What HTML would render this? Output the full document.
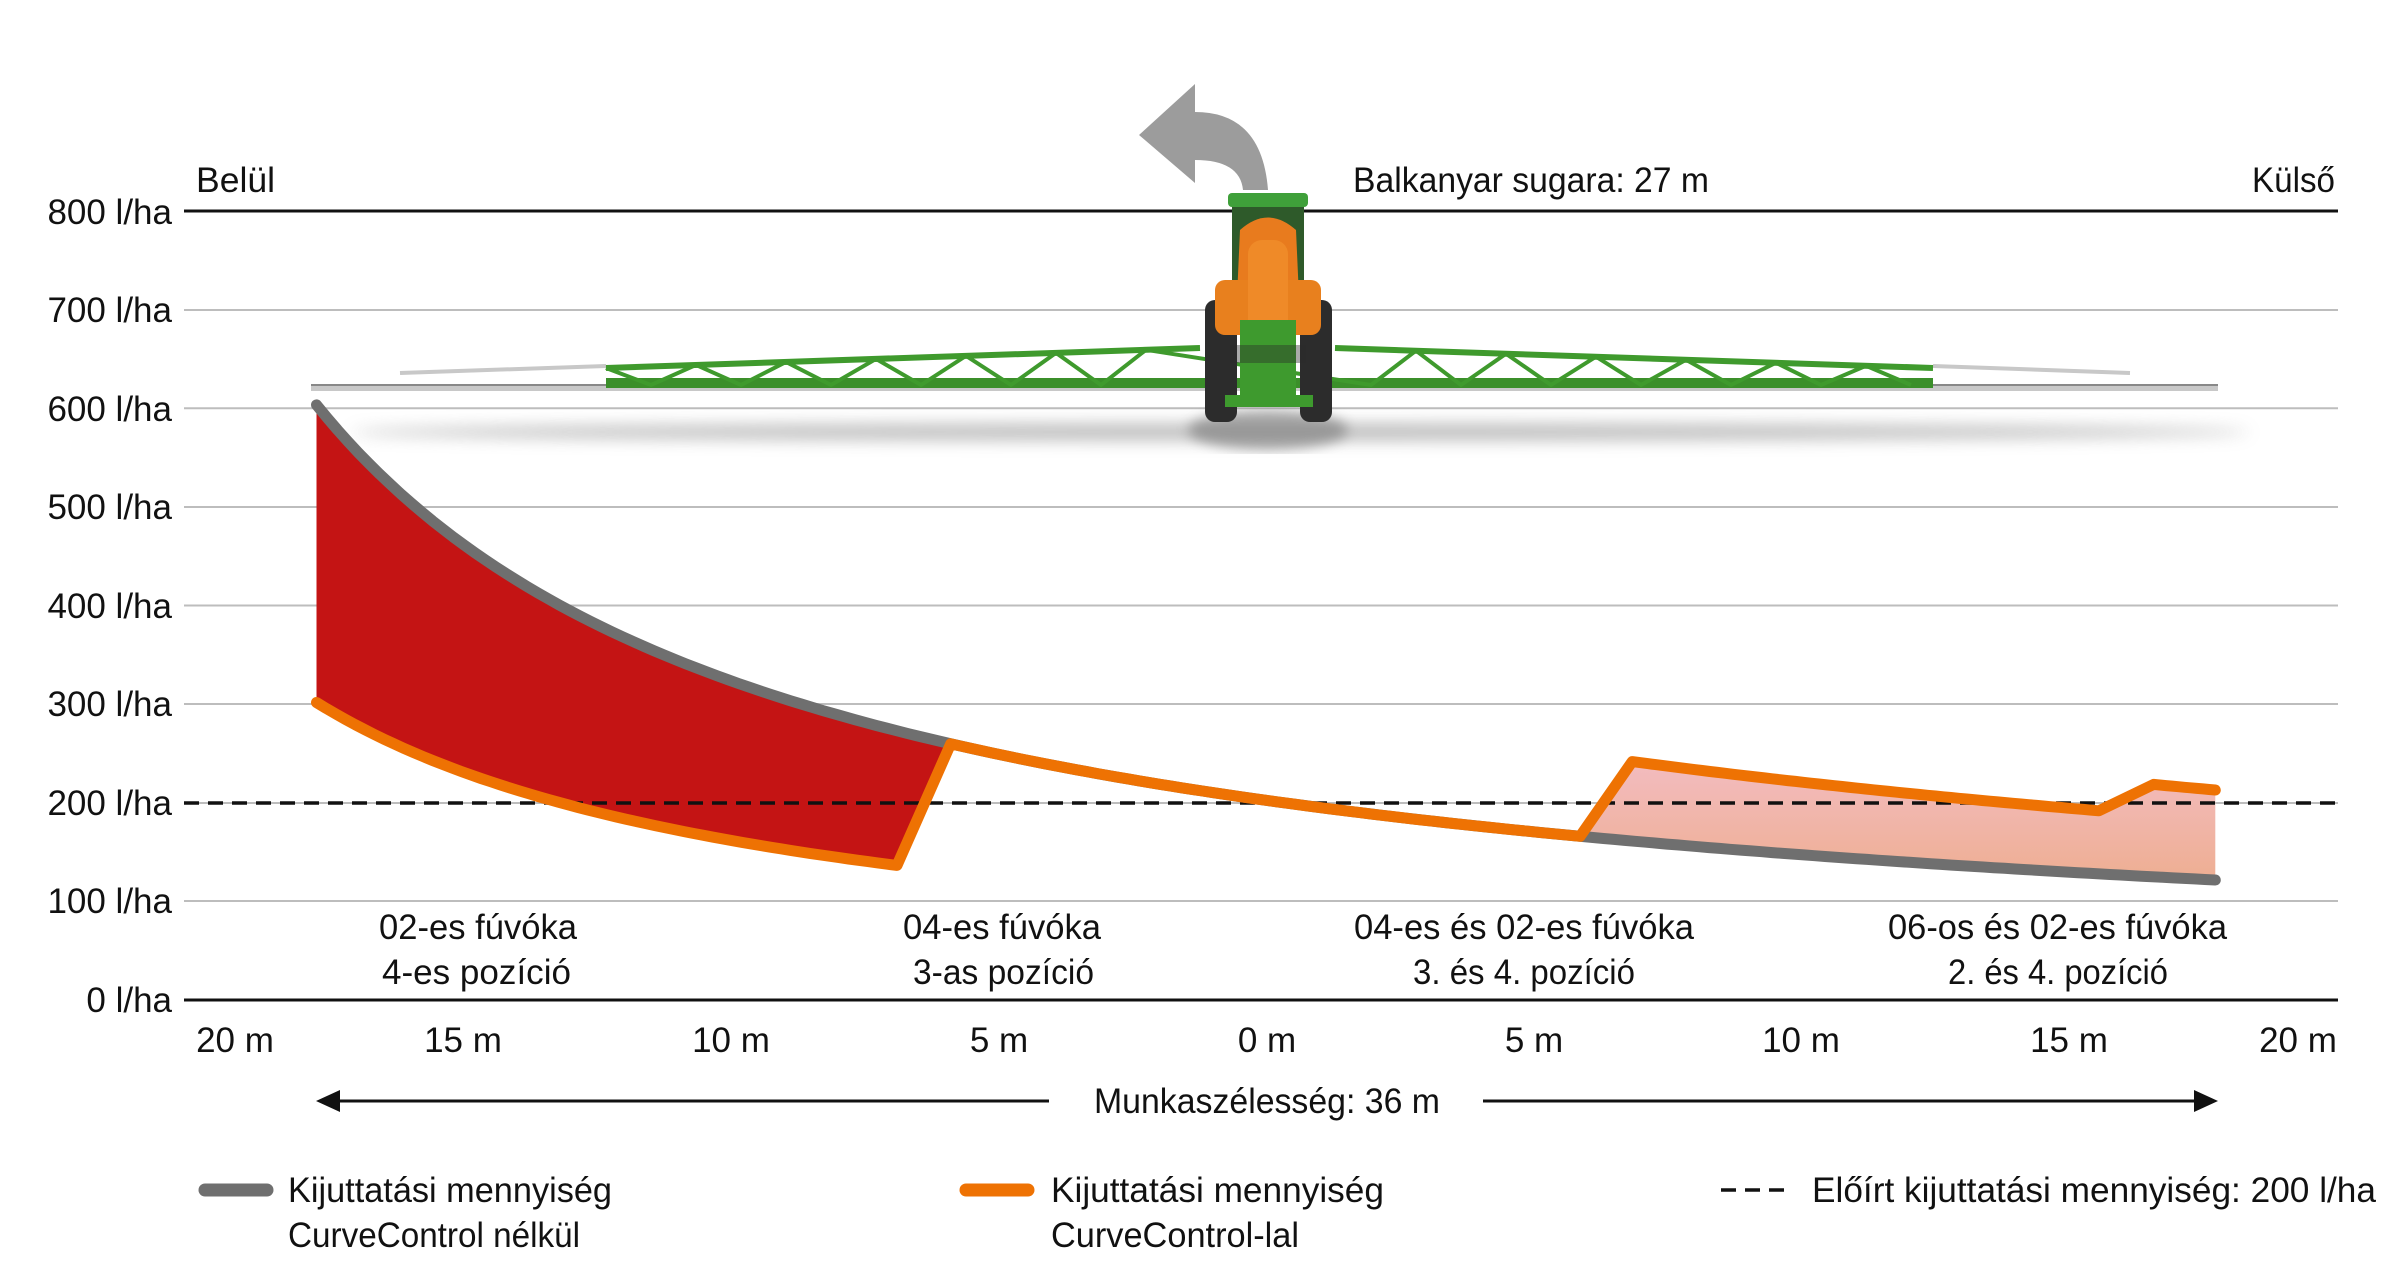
<!DOCTYPE html>
<html><head><meta charset="utf-8"><style>
html,body{margin:0;padding:0;background:#fff;}
svg{display:block;}
text{font-family:"Liberation Sans Narrow","Liberation Sans",sans-serif;font-size:35px;fill:#111;}
</style></head><body>
<svg id="s" width="2405" height="1285" viewBox="0 0 2405 1285" xmlns="http://www.w3.org/2000/svg">
<defs>
<filter id="bl" x="-20%" y="-200%" width="140%" height="500%"><feGaussianBlur stdDeviation="8"/></filter>
<filter id="bl2"><feGaussianBlur stdDeviation="6"/></filter>
<linearGradient id="pk" x1="0" y1="0" x2="0" y2="1"><stop offset="0" stop-color="#f3bcc0"/><stop offset="1" stop-color="#eeae92"/></linearGradient>
</defs>
<!-- grid -->
<g stroke="#bdbdbd" stroke-width="2">
<line x1="184" y1="310" x2="2338" y2="310"/><line x1="184" y1="408.3" x2="2338" y2="408.3"/>
<line x1="184" y1="507" x2="2338" y2="507"/><line x1="184" y1="605.5" x2="2338" y2="605.5"/>
<line x1="184" y1="704" x2="2338" y2="704"/><line x1="184" y1="803" x2="2338" y2="803"/>
<line x1="184" y1="901" x2="2338" y2="901"/>
</g>
<line x1="184" y1="211" x2="2338" y2="211" stroke="#111" stroke-width="3"/>
<line x1="184" y1="1000" x2="2338" y2="1000" stroke="#111" stroke-width="3"/>
<!-- y labels -->
<g text-anchor="end">
<text x="172" y="224">800 l/ha</text><text x="172" y="322">700 l/ha</text>
<text x="172" y="421">600 l/ha</text><text x="172" y="519">500 l/ha</text>
<text x="172" y="618">400 l/ha</text><text x="172" y="716">300 l/ha</text>
<text x="172" y="815">200 l/ha</text><text x="172" y="913">100 l/ha</text>
<text x="172" y="1012">0 l/ha</text>
</g>
<!-- x labels -->
<g text-anchor="middle">
<text x="235" y="1052">20 m</text><text x="463" y="1052">15 m</text><text x="731" y="1052">10 m</text>
<text x="999" y="1052">5 m</text><text x="1267" y="1052">0 m</text><text x="1534" y="1052">5 m</text>
<text x="1801" y="1052">10 m</text><text x="2069" y="1052">15 m</text><text x="2298" y="1052">20 m</text>
</g>
<!-- headers -->
<text x="196" y="192" textLength="79" lengthAdjust="spacingAndGlyphs">Belül</text>
<text x="2252" y="192" textLength="83" lengthAdjust="spacingAndGlyphs">Külső</text>
<text x="1353" y="192" textLength="356" lengthAdjust="spacingAndGlyphs">Balkanyar sugara: 27 m</text>

<!-- machine shadow -->
<ellipse cx="1300" cy="432" rx="950" ry="8" fill="#9a9a9a" filter="url(#bl)" opacity="0.7"/>
<ellipse cx="1268" cy="430" rx="80" ry="20" fill="#777" filter="url(#bl2)" opacity="0.6"/>
<!-- boom -->
<g>
<rect x="311" y="384" width="1907" height="7" fill="#c8c8c8"/>
<rect x="311" y="384" width="1907" height="2" fill="#888"/>
<line x1="400" y1="373" x2="606" y2="366" stroke="#c8c8c8" stroke-width="4"/>
<line x1="1933" y1="366" x2="2130" y2="373" stroke="#c8c8c8" stroke-width="4"/>
<rect x="606" y="378" width="1327" height="10" fill="#3b8f2a"/>
<line x1="606" y1="368" x2="1200" y2="348" stroke="#3f9a2d" stroke-width="6"/>
<line x1="1335" y1="348" x2="1933" y2="368" stroke="#3f9a2d" stroke-width="6"/>
<path id="zz" d="" fill="none" stroke="#3f9a2d" stroke-width="4"/>
</g>
<!-- tractor -->
<g>
<rect x="1205" y="300" width="32" height="122" rx="10" fill="#2c2c2c"/>
<rect x="1300" y="300" width="32" height="122" rx="10" fill="#2c2c2c"/>
<rect x="1232" y="196" width="72" height="130" rx="8" fill="#2e5a2a"/>
<rect x="1228" y="193" width="80" height="14" rx="4" fill="#3fa03a"/>
<path d="M1240 230 Q1268 205 1296 230 L1300 320 L1236 320 Z" fill="#e87b1e"/>
<rect x="1215" y="280" width="106" height="55" rx="10" fill="#e8801e"/>
<rect x="1248" y="240" width="40" height="95" rx="14" fill="#ef8a28"/>
<rect x="1240" y="320" width="56" height="80" fill="#3e9a2e"/>
<rect x="1225" y="395" width="88" height="12" fill="#3e9a2e"/>
<rect x="1230" y="345" width="76" height="18" fill="#2a2a2a" opacity="0.4"/>
</g>
<!-- turn arrow -->
<path d="M1195 112 Q1262 112 1268 190 L1243 190 Q1240 160 1195 160 L1195 183 L1139 135 L1195 84 Z" fill="#9c9c9c"/>

<!-- fills -->
<path id="red" fill="#c41414"/>
<path id="pink" fill="url(#pk)"/>
<!-- dashed -->
<line x1="184" y1="803" x2="2338" y2="803" stroke="#111" stroke-width="3.5" stroke-dasharray="15 9"/>
<path id="gray" fill="none" stroke="#6f6f6f" stroke-width="11" stroke-linecap="round" stroke-linejoin="round"/>
<path id="orng" fill="none" stroke="#ee7203" stroke-width="11" stroke-linecap="round" stroke-linejoin="round"/>

<!-- category labels -->
<g text-anchor="start">
<text x="379" y="939" textLength="198" lengthAdjust="spacingAndGlyphs">02-es fúvóka</text>
<text x="382" y="984" textLength="189" lengthAdjust="spacingAndGlyphs">4-es pozíció</text>
<text x="903" y="939" textLength="198" lengthAdjust="spacingAndGlyphs">04-es fúvóka</text>
<text x="913" y="984" textLength="181" lengthAdjust="spacingAndGlyphs">3-as pozíció</text>
<text x="1354" y="939" textLength="340" lengthAdjust="spacingAndGlyphs">04-es és 02-es fúvóka</text>
<text x="1413" y="984" textLength="222" lengthAdjust="spacingAndGlyphs">3. és 4. pozíció</text>
<text x="1888" y="939" textLength="339" lengthAdjust="spacingAndGlyphs">06-os és 02-es fúvóka</text>
<text x="1948" y="984" textLength="220" lengthAdjust="spacingAndGlyphs">2. és 4. pozíció</text>
</g>
<!-- width arrows -->
<line x1="330" y1="1101" x2="1049" y2="1101" stroke="#111" stroke-width="3"/>
<polygon points="316,1101 340,1090 340,1112" fill="#111"/>
<line x1="1483" y1="1101" x2="2204" y2="1101" stroke="#111" stroke-width="3"/>
<polygon points="2218,1101 2194,1090 2194,1112" fill="#111"/>
<text x="1094" y="1113" textLength="346" lengthAdjust="spacingAndGlyphs">Munkaszélesség: 36 m</text>
<!-- legend -->
<line x1="205" y1="1190" x2="267" y2="1190" stroke="#6f6f6f" stroke-width="13" stroke-linecap="round"/>
<text x="288" y="1202" textLength="324" lengthAdjust="spacingAndGlyphs">Kijuttatási mennyiség</text>
<text x="288" y="1247" textLength="292" lengthAdjust="spacingAndGlyphs">CurveControl nélkül</text>
<line x1="966" y1="1190" x2="1028" y2="1190" stroke="#ee7203" stroke-width="13" stroke-linecap="round"/>
<text x="1051" y="1202" textLength="333" lengthAdjust="spacingAndGlyphs">Kijuttatási mennyiség</text>
<text x="1051" y="1247" textLength="248" lengthAdjust="spacingAndGlyphs">CurveControl-lal</text>
<line x1="1721" y1="1190" x2="1792" y2="1190" stroke="#111" stroke-width="3.5" stroke-dasharray="15 9"/>
<text x="1812" y="1202" textLength="564" lengthAdjust="spacingAndGlyphs">Előírt kijuttatási mennyiség: 200 l/ha</text>
</svg>
<script>
(function(){
function X(m){return 1267+m*53.7;}
function Y(v){return 1000-v*0.98625;}
function g(m){return 5388/(26.63+m);}
function P(m,v){return X(m).toFixed(1)+' '+Y(v).toFixed(1);}
var i,m,d,N=60;
// gray
d='';for(i=0;i<=N*3;i++){m=-17.7+(35.36)*i/(N*3);d+=(i?'L':'M')+P(m,g(m));}
document.getElementById('gray').setAttribute('d',d);
// orange
var a=-17.7,b=-6.89,c=-5.89,e=5.83,f=6.8,h=15.49,k=16.51,l=17.66;
d='';
for(i=0;i<=N;i++){m=a+(b-a)*i/N;d+=(i?'L':'M')+P(m,g(m)/2);}
for(i=0;i<=N;i++){m=c+(e-c)*i/N;d+='L'+P(m,g(m));}
for(i=0;i<=N;i++){m=f+(h-f)*i/N;d+='L'+P(m,1.5*g(m));}
for(i=0;i<=10;i++){m=k+(l-k)*i/10;d+='L'+P(m,1.75*g(m));}
document.getElementById('orng').setAttribute('d',d);
// red fill
d='';
for(i=0;i<=N;i++){m=a+(c-a)*i/N;d+=(i?'L':'M')+P(m,g(m));}
for(i=N;i>=0;i--){m=a+(b-a)*i/N;d+='L'+P(m,g(m)/2);}
document.getElementById('red').setAttribute('d',d+'Z');
// pink fill
d='M'+P(e,g(e));
for(i=0;i<=N;i++){m=f+(h-f)*i/N;d+='L'+P(m,1.5*g(m));}
for(i=0;i<=10;i++){m=k+(l-k)*i/10;d+='L'+P(m,1.75*g(m));}
for(i=N;i>=0;i--){m=e+(l-e)*i/N;d+='L'+P(m,g(m));}
document.getElementById('pink').setAttribute('d',d+'Z');
// truss zigzag
d='';var up=true;
for(var x=606;x<=1933;x+=45){if(x>1190&&x<1345)continue;var yt=(x<1268)?368-(x-606)*20/594:348+(x-1335)*20/598;d+=(d?'L':'M')+x+' '+(up?yt:385);up=!up;}
document.getElementById('zz').setAttribute('d',d);
})();
</script>
</body></html>
